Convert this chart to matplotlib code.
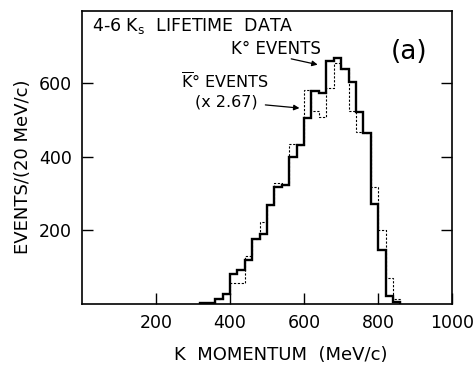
import matplotlib.pyplot as plt
import numpy as np

plt.rcParams['font.family'] = ['DejaVu Sans']
plt.rcParams['mathtext.fontset'] = 'dejavusans'

# bin edges, 20 MeV/c wide
edges = np.arange(320, 861, 20)

# K0 events (solid)
k0 = [3, 2, 14, 26, 82, 91, 119, 176, 189, 268, 317, 322, 398, 432,
      506, 578, 572, 660, 669, 638, 602, 521, 463, 271, 147, 20, 5]

# K0bar events x 2.67 (dashed)
k0bar = [3, 2, 14, 26, 56, 56, 131, 176, 222, 268, 327, 322, 435, 432,
         580, 524, 507, 586, 654, 638, 525, 466, 463, 316, 200, 70, 12]

xticks = [200, 400, 600, 800, 1000]
yticks = [200, 400, 600]

fig = plt.figure(figsize=(4.76, 3.71), dpi=100)
ax = fig.add_axes([0.172, 0.181, 0.778, 0.789])

ax.stairs(k0bar, edges, color='black', lw=0.8, linestyle=(0, (2, 1.5)))
ax.stairs(k0, edges, color='black', lw=1.7)

ax.set_xlim(0, 1000)
ax.set_ylim(0, 795)
ax.set_xticks(xticks)
ax.set_xticklabels([str(t) for t in xticks], fontsize=12.5)
ax.set_yticks(yticks)
ax.set_yticklabels([str(t) for t in yticks], fontsize=12.5)
ax.tick_params(direction='in', length=8, width=1, right=True, pad=7)
for s in ax.spines.values():
    s.set_linewidth(1.2)

ax.text(27, 754, r"4-6 K$_{\mathrm{s}}$  LIFETIME  DATA", fontsize=12.5, va='center')
ax.text(884, 683, "(a)", fontsize=19, ha='center', va='center')
ax.text(524, 691, "K° EVENTS", fontsize=12, ha='center', va='center')
ax.text(387, 604, r"$\overline{\mathrm{K}}$° EVENTS", fontsize=11.5, ha='center', va='center')
ax.text(390, 549, "(x 2.67)", fontsize=11.5, ha='center', va='center')
ax.annotate("", xy=(644, 648), xytext=(558, 667),
            arrowprops=dict(arrowstyle='-|>', color='black', lw=0.9,
                            mutation_scale=8))
ax.annotate("", xy=(595, 531), xytext=(488, 541),
            arrowprops=dict(arrowstyle='-|>', color='black', lw=0.9,
                            mutation_scale=8))

ax.set_ylabel("EVENTS/(20 MeV/c)", fontsize=13)
ax.yaxis.set_label_coords(-0.135, 0.47)
fig.text(0.59, 0.02, "K  MOMENTUM  (MeV/c)", fontsize=13, ha='center', va='bottom')

fig.savefig("out.png", dpi=100)
